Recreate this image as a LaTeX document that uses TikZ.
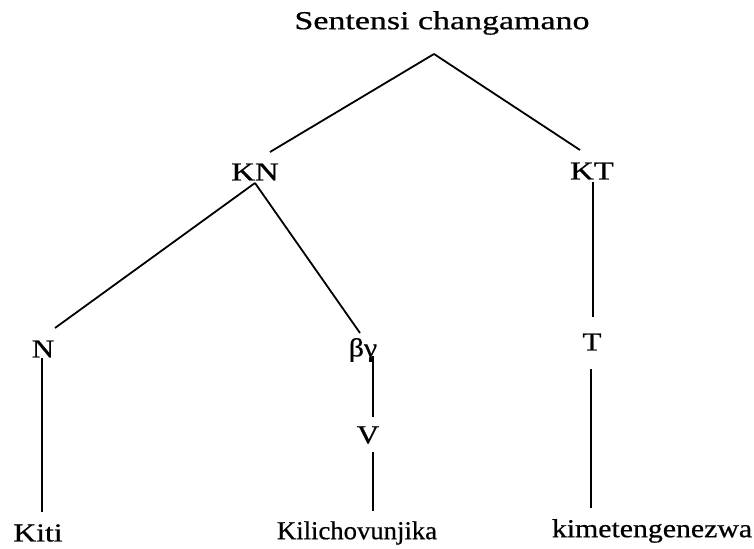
\documentclass[tikz,border=0pt]{standalone}
\usepackage{fontspec}
\setmainfont{Liberation Serif}
\newfontface\heavyserif{Liberation Serif}[FakeBold=0.6]
\newcommand{\myhs}[2]{\scalebox{#1}[1]{#2}}
\begin{document}
\begin{tikzpicture}[x=1bp,y=-1bp,
  lab/.style={font=\heavyserif\fontsize{26}{30}\selectfont, inner sep=0pt, anchor=center},
  br/.style={line width=1.8bp, black}]
\useasboundingbox (0,0) rectangle (754,549);
% labels
\node[lab] (title) at (442,23) {\myhs{1.31}{Sentensi changamano}};
\node[lab] (KN) at (255,172) {\myhs{1.27}{KN}};
\node[lab] (KT) at (592,171) {\myhs{1.27}{KT}};
\node[lab] (N) at (43,349) {\myhs{1.2}{N}};
\node[lab] (By) at (363,350) {\myhs{1.15}{βγ}};
\node[lab] (V) at (368,435) {\myhs{1.2}{V}};
\node[lab] (T) at (592,342) {\myhs{1.2}{T}};
\node[lab] (Kiti) at (38,533) {\myhs{1.22}{Kiti}};
\node[lab] (Kili) at (357,533) {\myhs{1.03}{Kilichovunjika}};
\node[lab] (kime) at (652,531) {\myhs{1.15}{kimetengenezwa}};
% branch points
\coordinate (apex) at (434,54);
\coordinate (knapex) at (255,183);
% connectors
\draw[br] (apex) -- (270,152) coordinate (kn-in);
\draw[br] (apex) -- (580,150) coordinate (kt-in);
\draw[br] (knapex) -- (55,328) coordinate (n-in);
\draw[br] (knapex) -- (360,333) coordinate (by-in);
\draw[br] (42,358) coordinate (n-out) -- (42,512) coordinate (kiti-in);
\draw[br] (373,356) coordinate (by-out) -- (373,417) coordinate (v-in);
\draw[br] (373,452) coordinate (v-out) -- (373,511) coordinate (kili-in);
\draw[br] (593,182) coordinate (kt-out) -- (593,317) coordinate (t-in);
\draw[br] (591,369) coordinate (t-out) -- (591,508) coordinate (kime-in);
\end{tikzpicture}
\end{document}
